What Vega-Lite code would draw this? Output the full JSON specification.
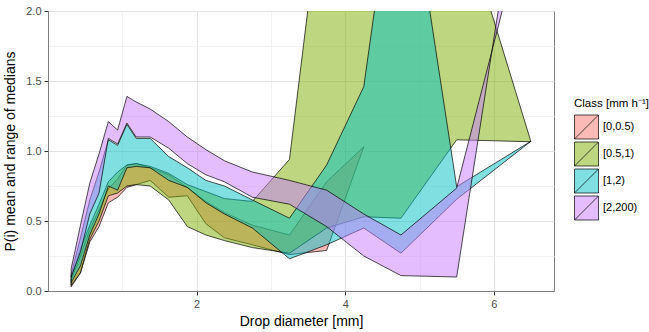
{
  "$schema": "https://vega.github.io/schema/vega-lite/v6.json",
  "width": 506,
  "height": 280,
  "autosize": {"type": "none"},
  "padding": {"left": 48, "top": 11, "right": 95, "bottom": 41},
  "background": "white",
  "config": {
    "font": "Liberation Sans",
    "view": {"stroke": "#7f7f7f", "strokeWidth": 1}
  },
  "data": {
    "values": [
      {"cls": "[0,0.5)", "d": 0.312, "lo": 0.03, "hi": 0.08},
      {"cls": "[0,0.5)", "d": 0.437, "lo": 0.13, "hi": 0.25},
      {"cls": "[0,0.5)", "d": 0.562, "lo": 0.35, "hi": 0.44},
      {"cls": "[0,0.5)", "d": 0.687, "lo": 0.46, "hi": 0.58},
      {"cls": "[0,0.5)", "d": 0.812, "lo": 0.63, "hi": 0.73},
      {"cls": "[0,0.5)", "d": 0.937, "lo": 0.67, "hi": 0.80},
      {"cls": "[0,0.5)", "d": 1.062, "lo": 0.74, "hi": 0.90},
      {"cls": "[0,0.5)", "d": 1.187, "lo": 0.76, "hi": 0.91},
      {"cls": "[0,0.5)", "d": 1.375, "lo": 0.79, "hi": 0.88},
      {"cls": "[0,0.5)", "d": 1.625, "lo": 0.67, "hi": 0.83},
      {"cls": "[0,0.5)", "d": 1.875, "lo": 0.68, "hi": 0.74},
      {"cls": "[0,0.5)", "d": 2.125, "lo": 0.48, "hi": 0.64},
      {"cls": "[0,0.5)", "d": 2.375, "lo": 0.38, "hi": 0.56},
      {"cls": "[0,0.5)", "d": 2.75, "lo": 0.33, "hi": 0.47},
      {"cls": "[0,0.5)", "d": 3.25, "lo": 0.26, "hi": 0.40},
      {"cls": "[0,0.5)", "d": 3.75, "lo": 0.29, "hi": 0.78},
      {"cls": "[0,0.5)", "d": 4.25, "lo": 1.03, "hi": 1.03},
      {"cls": "[0.5,1)", "d": 0.312, "lo": 0.04, "hi": 0.10},
      {"cls": "[0.5,1)", "d": 0.437, "lo": 0.13, "hi": 0.30},
      {"cls": "[0.5,1)", "d": 0.562, "lo": 0.37, "hi": 0.47},
      {"cls": "[0.5,1)", "d": 0.687, "lo": 0.50, "hi": 0.62},
      {"cls": "[0.5,1)", "d": 0.812, "lo": 0.68, "hi": 0.78},
      {"cls": "[0.5,1)", "d": 0.937, "lo": 0.70, "hi": 0.85},
      {"cls": "[0.5,1)", "d": 1.062, "lo": 0.75, "hi": 0.90},
      {"cls": "[0.5,1)", "d": 1.187, "lo": 0.76, "hi": 0.91},
      {"cls": "[0.5,1)", "d": 1.375, "lo": 0.75, "hi": 0.89},
      {"cls": "[0.5,1)", "d": 1.625, "lo": 0.65, "hi": 0.84},
      {"cls": "[0.5,1)", "d": 1.875, "lo": 0.46, "hi": 0.76},
      {"cls": "[0.5,1)", "d": 2.125, "lo": 0.40, "hi": 0.71},
      {"cls": "[0.5,1)", "d": 2.375, "lo": 0.36, "hi": 0.66},
      {"cls": "[0.5,1)", "d": 2.75, "lo": 0.31, "hi": 0.64},
      {"cls": "[0.5,1)", "d": 3.25, "lo": 0.27, "hi": 0.94},
      {"cls": "[0.5,1)", "d": 3.75, "lo": 0.45, "hi": 3.1},
      {"cls": "[0.5,1)", "d": 4.25, "lo": 0.53, "hi": 3.0},
      {"cls": "[0.5,1)", "d": 4.75, "lo": 0.52, "hi": 2.9},
      {"cls": "[0.5,1)", "d": 5.5, "lo": 1.08, "hi": 2.8},
      {"cls": "[0.5,1)", "d": 6.5, "lo": 1.066, "hi": 1.066},
      {"cls": "[1,2)", "d": 0.312, "lo": 0.06, "hi": 0.12},
      {"cls": "[1,2)", "d": 0.437, "lo": 0.18, "hi": 0.38},
      {"cls": "[1,2)", "d": 0.562, "lo": 0.40, "hi": 0.65},
      {"cls": "[1,2)", "d": 0.687, "lo": 0.55, "hi": 0.85},
      {"cls": "[1,2)", "d": 0.812, "lo": 0.75, "hi": 1.08},
      {"cls": "[1,2)", "d": 0.937, "lo": 0.72, "hi": 1.04},
      {"cls": "[1,2)", "d": 1.062, "lo": 0.88, "hi": 1.19},
      {"cls": "[1,2)", "d": 1.187, "lo": 0.89, "hi": 1.09},
      {"cls": "[1,2)", "d": 1.375, "lo": 0.88, "hi": 1.09},
      {"cls": "[1,2)", "d": 1.625, "lo": 0.79, "hi": 0.96},
      {"cls": "[1,2)", "d": 1.875, "lo": 0.74, "hi": 0.88},
      {"cls": "[1,2)", "d": 2.125, "lo": 0.63, "hi": 0.79},
      {"cls": "[1,2)", "d": 2.375, "lo": 0.55, "hi": 0.75},
      {"cls": "[1,2)", "d": 2.75, "lo": 0.45, "hi": 0.65},
      {"cls": "[1,2)", "d": 3.25, "lo": 0.23, "hi": 0.52},
      {"cls": "[1,2)", "d": 3.75, "lo": 0.33, "hi": 0.90},
      {"cls": "[1,2)", "d": 4.25, "lo": 0.45, "hi": 1.46},
      {"cls": "[1,2)", "d": 4.75, "lo": 0.27, "hi": 3.35},
      {"cls": "[1,2)", "d": 5.5, "lo": 0.655, "hi": 0.745},
      {"cls": "[1,2)", "d": 6.5, "lo": 1.07, "hi": 1.07},
      {"cls": "[2,200)", "d": 0.312, "lo": 0.10, "hi": 0.16},
      {"cls": "[2,200)", "d": 0.437, "lo": 0.28, "hi": 0.47},
      {"cls": "[2,200)", "d": 0.562, "lo": 0.55, "hi": 0.77},
      {"cls": "[2,200)", "d": 0.687, "lo": 0.70, "hi": 0.98},
      {"cls": "[2,200)", "d": 0.812, "lo": 1.09, "hi": 1.21},
      {"cls": "[2,200)", "d": 0.937, "lo": 1.05, "hi": 1.15},
      {"cls": "[2,200)", "d": 1.062, "lo": 1.20, "hi": 1.39},
      {"cls": "[2,200)", "d": 1.187, "lo": 1.10, "hi": 1.35},
      {"cls": "[2,200)", "d": 1.375, "lo": 1.10, "hi": 1.30},
      {"cls": "[2,200)", "d": 1.625, "lo": 1.02, "hi": 1.21},
      {"cls": "[2,200)", "d": 1.875, "lo": 0.91, "hi": 1.10},
      {"cls": "[2,200)", "d": 2.125, "lo": 0.83, "hi": 1.01},
      {"cls": "[2,200)", "d": 2.375, "lo": 0.78, "hi": 0.93},
      {"cls": "[2,200)", "d": 2.75, "lo": 0.67, "hi": 0.85},
      {"cls": "[2,200)", "d": 3.25, "lo": 0.62, "hi": 0.79},
      {"cls": "[2,200)", "d": 3.75, "lo": 0.46, "hi": 0.72},
      {"cls": "[2,200)", "d": 4.25, "lo": 0.25, "hi": 0.55},
      {"cls": "[2,200)", "d": 4.75, "lo": 0.11, "hi": 0.40},
      {"cls": "[2,200)", "d": 5.5, "lo": 0.10, "hi": 0.735},
      {"cls": "[2,200)", "d": 6.5, "lo": 3.5, "hi": 2.8}
    ]
  },
  "mark": {"type": "area", "fillOpacity": 0.5, "stroke": "black", "strokeWidth": 0.7, "clip": true},
  "encoding": {
    "x": {
      "field": "d", "type": "quantitative",
      "scale": {"domain": [0, 6.81], "nice": false, "zero": false},
      "axis": {
        "title": "Drop diameter [mm]",
        "values": [1, 2, 3, 4, 5, 6],
        "labelExpr": "datum.value % 2 == 0 ? datum.label : ''",
        "gridColor": {"condition": {"test": "datum.value % 2 == 0", "value": "#e3e3e3"}, "value": "#f2f2f2"},
        "tickColor": {"condition": {"test": "datum.value % 2 == 0", "value": "#333333"}, "value": "transparent"},
        "domain": true,
        "domainColor": "#7f7f7f",
        "domainWidth": 1,
        "tickSize": 4,
        "labelFontSize": 11,
        "labelColor": "#4d4d4d",
        "labelPadding": 3,
        "titleFontSize": 14,
        "titleFontWeight": "normal",
        "titleColor": "black",
        "titlePadding": 5
      }
    },
    "y": {
      "field": "lo", "type": "quantitative",
      "scale": {"domain": [0, 2], "nice": false, "zero": false},
      "axis": {
        "title": "P(i) mean and range of medians",
        "values": [0, 0.25, 0.5, 0.75, 1, 1.25, 1.5, 1.75, 2],
        "labelExpr": "(datum.value * 2) % 1 == 0 ? format(datum.value, '.1f') : ''",
        "gridColor": {"condition": {"test": "(datum.value * 2) % 1 == 0", "value": "#e3e3e3"}, "value": "#f2f2f2"},
        "tickColor": {"condition": {"test": "(datum.value * 2) % 1 == 0", "value": "#333333"}, "value": "transparent"},
        "domain": true,
        "domainColor": "#7f7f7f",
        "domainWidth": 1,
        "tickSize": 4,
        "labelFontSize": 11,
        "labelColor": "#4d4d4d",
        "labelPadding": 3,
        "titleFontSize": 14,
        "titleFontWeight": "normal",
        "titleColor": "black",
        "titlePadding": 8
      }
    },
    "y2": {"field": "hi"},
    "color": {
      "field": "cls", "type": "nominal",
      "scale": {"domain": ["[0,0.5)", "[0.5,1)", "[1,2)", "[2,200)"], "range": ["#F8766D", "#7CAE00", "#00BFC4", "#C77CFF"]},
      "legend": {
        "title": "Class [mm h⁻¹]",
        "orient": "none",
        "legendX": 526,
        "legendY": 87,
        "titleFontSize": 11.5,
        "titleFontWeight": "normal",
        "titleColor": "black",
        "titlePadding": 5,
        "labelFontSize": 11,
        "labelColor": "black",
        "labelOffset": 4,
        "rowPadding": 0,
        "symbolType": "M-1,-1H1V1H-1Z M-1,1L1,-1",
        "symbolSize": 576,
        "symbolStrokeColor": "black",
        "symbolStrokeWidth": 0.7,
        "symbolOpacity": 1,
        "encode": {"symbols": {"update": {"fillOpacity": {"value": 0.5}, "stroke": {"value": "black"}, "strokeWidth": {"value": 0.7}}}}
      }
    }
  }
}
